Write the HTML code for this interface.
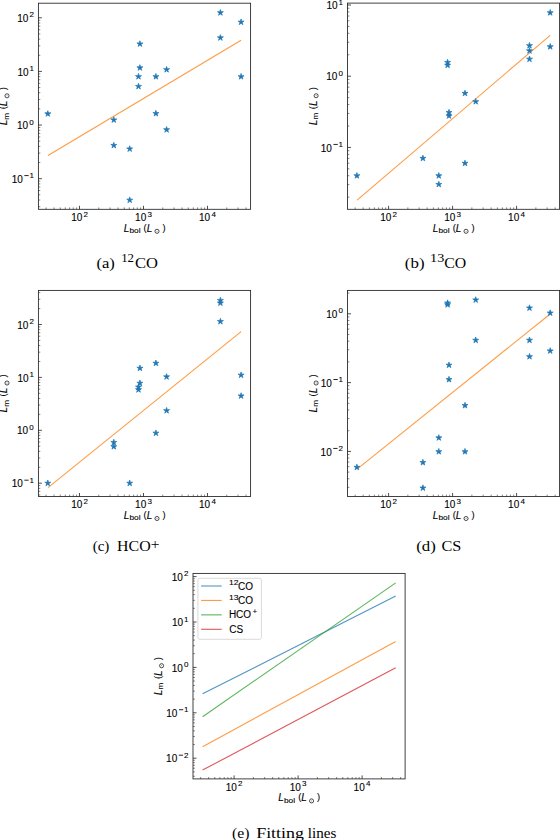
<!DOCTYPE html>
<html><head><meta charset="utf-8"><title>Figure</title>
<style>
html,body{margin:0;padding:0;background:#fff;}
body{width:560px;height:840px;overflow:hidden;}
svg{display:block;}
text{fill:#000;}
text.s,text.si{font-family:"Liberation Sans", sans-serif;stroke:#000;stroke-width:0.1px;}
text.si{font-style:italic;}
text.f{font-family:"Liberation Serif", serif;}
</style></head>
<body>
<svg width="560" height="840" viewBox="0 0 560 840">
<rect width="560" height="840" fill="#fff"/>
<text class="s" x="71.18" y="221" style="font-size:10px">10</text>
<text class="s" x="83.41" y="216.5" style="font-size:8px">2</text>
<text class="s" x="135.11" y="221" style="font-size:10px">10</text>
<text class="s" x="147.43" y="216.5" style="font-size:8px">3</text>
<text class="s" x="198.99" y="221" style="font-size:10px">10</text>
<text class="s" x="211.44" y="216.5" style="font-size:8px">4</text>
<text class="s" x="11.72" y="182.78" style="font-size:10px">10</text>
<rect x="24.35" y="175.22" width="4.3" height="0.85" fill="#000"/>
<text class="s" x="29.44" y="178.28" style="font-size:8px">1</text>
<text class="s" x="17.04" y="129.15" style="font-size:10px">10</text>
<text class="s" x="29.36" y="124.65" style="font-size:8px">0</text>
<text class="s" x="17.42" y="75.52" style="font-size:10px">10</text>
<text class="s" x="29.44" y="71.02" style="font-size:8px">1</text>
<text class="s" x="17.22" y="21.89" style="font-size:10px">10</text>
<text class="s" x="29.45" y="17.39" style="font-size:8px">2</text>
<path d="M79.5 209.3v-3.5M143.5 209.3v-3.5M207.5 209.3v-3.5M38.4 178.68h3.5M38.4 125.05h3.5M38.4 71.42h3.5M38.4 17.79h3.5" stroke="#222" stroke-width="0.8" fill="none"/>
<path d="M46.04 209.3v-1.9M54.03 209.3v-1.9M60.23 209.3v-1.9M65.3 209.3v-1.9M69.59 209.3v-1.9M73.3 209.3v-1.9M76.57 209.3v-1.9M98.77 209.3v-1.9M110.04 209.3v-1.9M118.03 209.3v-1.9M124.23 209.3v-1.9M129.3 209.3v-1.9M133.59 209.3v-1.9M137.3 209.3v-1.9M140.57 209.3v-1.9M162.77 209.3v-1.9M174.04 209.3v-1.9M182.03 209.3v-1.9M188.23 209.3v-1.9M193.3 209.3v-1.9M197.59 209.3v-1.9M201.3 209.3v-1.9M204.57 209.3v-1.9M226.77 209.3v-1.9M238.04 209.3v-1.9M246.03 209.3v-1.9M38.4 206.72h1.9M38.4 200.02h1.9M38.4 194.82h1.9M38.4 190.58h1.9M38.4 186.99h1.9M38.4 183.88h1.9M38.4 181.13h1.9M38.4 162.54h1.9M38.4 153.09h1.9M38.4 146.39h1.9M38.4 141.19h1.9M38.4 136.95h1.9M38.4 133.36h1.9M38.4 130.25h1.9M38.4 127.5h1.9M38.4 108.91h1.9M38.4 99.46h1.9M38.4 92.76h1.9M38.4 87.56h1.9M38.4 83.32h1.9M38.4 79.73h1.9M38.4 76.62h1.9M38.4 73.87h1.9M38.4 55.28h1.9M38.4 45.83h1.9M38.4 39.13h1.9M38.4 33.93h1.9M38.4 29.69h1.9M38.4 26.1h1.9M38.4 22.99h1.9M38.4 20.24h1.9" stroke="#333" stroke-width="0.6" fill="none"/>
<path d="M48 155.5L241.1 40.3" stroke="#ff7f0e" stroke-width="1.1" stroke-opacity="0.78" fill="none"/>
<path d="M47.8 110.65L47.09 112.83L44.8 112.83L46.66 114.17L45.95 116.35L47.8 115L49.65 116.35L48.94 114.17L50.8 112.83L48.51 112.83ZM113.8 116.75L113.09 118.93L110.8 118.93L112.66 120.27L111.95 122.45L113.8 121.1L115.65 122.45L114.94 120.27L116.8 118.93L114.51 118.93ZM113.8 142.25L113.09 144.43L110.8 144.43L112.66 145.77L111.95 147.95L113.8 146.6L115.65 147.95L114.94 145.77L116.8 144.43L114.51 144.43ZM129.7 145.75L128.99 147.93L126.7 147.93L128.56 149.27L127.85 151.45L129.7 150.1L131.55 151.45L130.84 149.27L132.7 147.93L130.41 147.93ZM129.7 196.95L128.99 199.13L126.7 199.13L128.56 200.47L127.85 202.65L129.7 201.3L131.55 202.65L130.84 200.47L132.7 199.13L130.41 199.13ZM138.5 83.25L137.79 85.43L135.5 85.43L137.36 86.77L136.65 88.95L138.5 87.6L140.35 88.95L139.64 86.77L141.5 85.43L139.21 85.43ZM138.5 73.45L137.79 75.63L135.5 75.63L137.36 76.97L136.65 79.15L138.5 77.8L140.35 79.15L139.64 76.97L141.5 75.63L139.21 75.63ZM139.9 64.65L139.19 66.83L136.9 66.83L138.76 68.17L138.05 70.35L139.9 69L141.75 70.35L141.04 68.17L142.9 66.83L140.61 66.83ZM139.9 40.75L139.19 42.93L136.9 42.93L138.76 44.27L138.05 46.45L139.9 45.1L141.75 46.45L141.04 44.27L142.9 42.93L140.61 42.93ZM155.9 110.35L155.19 112.53L152.9 112.53L154.76 113.87L154.05 116.05L155.9 114.7L157.75 116.05L157.04 113.87L158.9 112.53L156.61 112.53ZM155.9 73.45L155.19 75.63L152.9 75.63L154.76 76.97L154.05 79.15L155.9 77.8L157.75 79.15L157.04 76.97L158.9 75.63L156.61 75.63ZM166.6 66.45L165.89 68.63L163.6 68.63L165.46 69.97L164.75 72.15L166.6 70.8L168.45 72.15L167.74 69.97L169.6 68.63L167.31 68.63ZM166.6 126.55L165.89 128.73L163.6 128.73L165.46 130.07L164.75 132.25L166.6 130.9L168.45 132.25L167.74 130.07L169.6 128.73L167.31 128.73ZM220.4 9.55L219.69 11.73L217.4 11.73L219.26 13.07L218.55 15.25L220.4 13.9L222.25 15.25L221.54 13.07L223.4 11.73L221.11 11.73ZM220.4 34.65L219.69 36.83L217.4 36.83L219.26 38.17L218.55 40.35L220.4 39L222.25 40.35L221.54 38.17L223.4 36.83L221.11 36.83ZM241.1 18.95L240.39 21.13L238.1 21.13L239.96 22.47L239.25 24.65L241.1 23.3L242.95 24.65L242.24 22.47L244.1 21.13L241.81 21.13ZM241.1 73.45L240.39 75.63L238.1 75.63L239.96 76.97L239.25 79.15L241.1 77.8L242.95 79.15L242.24 76.97L244.1 75.63L241.81 75.63Z" fill="#1f77b4" stroke="#1f77b4" stroke-width="0.7" stroke-linejoin="miter"/>
<rect x="38.4" y="3.2" width="212.2" height="206.1" fill="none" stroke="#222" stroke-width="0.85"/>
<text class="s" x="380.28" y="221" style="font-size:10px">10</text>
<text class="s" x="392.51" y="216.5" style="font-size:8px">2</text>
<text class="s" x="444.21" y="221" style="font-size:10px">10</text>
<text class="s" x="456.53" y="216.5" style="font-size:8px">3</text>
<text class="s" x="508.09" y="221" style="font-size:10px">10</text>
<text class="s" x="520.54" y="216.5" style="font-size:8px">4</text>
<text class="s" x="320.82" y="151.5" style="font-size:10px">10</text>
<rect x="333.45" y="143.94" width="4.3" height="0.85" fill="#000"/>
<text class="s" x="338.54" y="147" style="font-size:8px">1</text>
<text class="s" x="326.14" y="80.3" style="font-size:10px">10</text>
<text class="s" x="338.46" y="75.8" style="font-size:8px">0</text>
<text class="s" x="326.52" y="9.1" style="font-size:10px">10</text>
<text class="s" x="338.54" y="4.6" style="font-size:8px">1</text>
<path d="M388.6 209.3v-3.5M452.6 209.3v-3.5M516.6 209.3v-3.5M347.5 147.4h3.5M347.5 76.2h3.5M347.5 5h3.5" stroke="#222" stroke-width="0.8" fill="none"/>
<path d="M355.14 209.3v-1.9M363.13 209.3v-1.9M369.33 209.3v-1.9M374.4 209.3v-1.9M378.69 209.3v-1.9M382.4 209.3v-1.9M385.67 209.3v-1.9M407.87 209.3v-1.9M419.14 209.3v-1.9M427.13 209.3v-1.9M433.33 209.3v-1.9M438.4 209.3v-1.9M442.69 209.3v-1.9M446.4 209.3v-1.9M449.67 209.3v-1.9M471.87 209.3v-1.9M483.14 209.3v-1.9M491.13 209.3v-1.9M497.33 209.3v-1.9M502.4 209.3v-1.9M506.69 209.3v-1.9M510.4 209.3v-1.9M513.67 209.3v-1.9M535.87 209.3v-1.9M547.14 209.3v-1.9M555.13 209.3v-1.9M347.5 197.17h1.9M347.5 184.63h1.9M347.5 175.73h1.9M347.5 168.83h1.9M347.5 163.2h1.9M347.5 158.43h1.9M347.5 154.3h1.9M347.5 150.66h1.9M347.5 125.97h1.9M347.5 113.43h1.9M347.5 104.53h1.9M347.5 97.63h1.9M347.5 92h1.9M347.5 87.23h1.9M347.5 83.1h1.9M347.5 79.46h1.9M347.5 54.77h1.9M347.5 42.23h1.9M347.5 33.33h1.9M347.5 26.43h1.9M347.5 20.8h1.9M347.5 16.03h1.9M347.5 11.9h1.9M347.5 8.26h1.9" stroke="#333" stroke-width="0.6" fill="none"/>
<path d="M357.1 200.2L550.2 35.3" stroke="#ff7f0e" stroke-width="1.1" stroke-opacity="0.78" fill="none"/>
<path d="M356.9 172.55L356.19 174.73L353.9 174.73L355.76 176.07L355.05 178.25L356.9 176.9L358.75 178.25L358.04 176.07L359.9 174.73L357.61 174.73ZM422.9 155.15L422.19 157.33L419.9 157.33L421.76 158.67L421.05 160.85L422.9 159.5L424.75 160.85L424.04 158.67L425.9 157.33L423.61 157.33ZM438.8 172.55L438.09 174.73L435.8 174.73L437.66 176.07L436.95 178.25L438.8 176.9L440.65 178.25L439.94 176.07L441.8 174.73L439.51 174.73ZM438.8 181.25L438.09 183.43L435.8 183.43L437.66 184.77L436.95 186.95L438.8 185.6L440.65 186.95L439.94 184.77L441.8 183.43L439.51 183.43ZM447.6 59.25L446.89 61.43L444.6 61.43L446.46 62.77L445.75 64.95L447.6 63.6L449.45 64.95L448.74 62.77L450.6 61.43L448.31 61.43ZM447.6 62.05L446.89 64.23L444.6 64.23L446.46 65.57L445.75 67.75L447.6 66.4L449.45 67.75L448.74 65.57L450.6 64.23L448.31 64.23ZM449 109.35L448.29 111.53L446 111.53L447.86 112.87L447.15 115.05L449 113.7L450.85 115.05L450.14 112.87L452 111.53L449.71 111.53ZM449 112.65L448.29 114.83L446 114.83L447.86 116.17L447.15 118.35L449 117L450.85 118.35L450.14 116.17L452 114.83L449.71 114.83ZM465 90.15L464.29 92.33L462 92.33L463.86 93.67L463.15 95.85L465 94.5L466.85 95.85L466.14 93.67L468 92.33L465.71 92.33ZM465 160.15L464.29 162.33L462 162.33L463.86 163.67L463.15 165.85L465 164.5L466.85 165.85L466.14 163.67L468 162.33L465.71 162.33ZM475.7 98.45L474.99 100.63L472.7 100.63L474.56 101.97L473.85 104.15L475.7 102.8L477.55 104.15L476.84 101.97L478.7 100.63L476.41 100.63ZM529.5 42.45L528.79 44.63L526.5 44.63L528.36 45.97L527.65 48.15L529.5 46.8L531.35 48.15L530.64 45.97L532.5 44.63L530.21 44.63ZM529.5 47.65L528.79 49.83L526.5 49.83L528.36 51.17L527.65 53.35L529.5 52L531.35 53.35L530.64 51.17L532.5 49.83L530.21 49.83ZM529.5 55.95L528.79 58.13L526.5 58.13L528.36 59.47L527.65 61.65L529.5 60.3L531.35 61.65L530.64 59.47L532.5 58.13L530.21 58.13ZM550.2 9.55L549.49 11.73L547.2 11.73L549.06 13.07L548.35 15.25L550.2 13.9L552.05 15.25L551.34 13.07L553.2 11.73L550.91 11.73ZM550.2 43.55L549.49 45.73L547.2 45.73L549.06 47.07L548.35 49.25L550.2 47.9L552.05 49.25L551.34 47.07L553.2 45.73L550.91 45.73Z" fill="#1f77b4" stroke="#1f77b4" stroke-width="0.7" stroke-linejoin="miter"/>
<rect x="347.5" y="3.1" width="212.1" height="206.2" fill="none" stroke="#222" stroke-width="0.85"/>
<text class="s" x="71.18" y="508.2" style="font-size:10px">10</text>
<text class="s" x="83.41" y="503.7" style="font-size:8px">2</text>
<text class="s" x="135.11" y="508.2" style="font-size:10px">10</text>
<text class="s" x="147.43" y="503.7" style="font-size:8px">3</text>
<text class="s" x="198.99" y="508.2" style="font-size:10px">10</text>
<text class="s" x="211.44" y="503.7" style="font-size:8px">4</text>
<text class="s" x="11.72" y="487.3" style="font-size:10px">10</text>
<rect x="24.35" y="479.74" width="4.3" height="0.85" fill="#000"/>
<text class="s" x="29.44" y="482.8" style="font-size:8px">1</text>
<text class="s" x="17.04" y="434.4" style="font-size:10px">10</text>
<text class="s" x="29.36" y="429.9" style="font-size:8px">0</text>
<text class="s" x="17.42" y="381.5" style="font-size:10px">10</text>
<text class="s" x="29.44" y="377" style="font-size:8px">1</text>
<text class="s" x="17.22" y="328.6" style="font-size:10px">10</text>
<text class="s" x="29.45" y="324.1" style="font-size:8px">2</text>
<path d="M79.5 496.5v-3.5M143.5 496.5v-3.5M207.5 496.5v-3.5M38.4 483.2h3.5M38.4 430.3h3.5M38.4 377.4h3.5M38.4 324.5h3.5" stroke="#222" stroke-width="0.8" fill="none"/>
<path d="M46.04 496.5v-1.9M54.03 496.5v-1.9M60.23 496.5v-1.9M65.3 496.5v-1.9M69.59 496.5v-1.9M73.3 496.5v-1.9M76.57 496.5v-1.9M98.77 496.5v-1.9M110.04 496.5v-1.9M118.03 496.5v-1.9M124.23 496.5v-1.9M129.3 496.5v-1.9M133.59 496.5v-1.9M137.3 496.5v-1.9M140.57 496.5v-1.9M162.77 496.5v-1.9M174.04 496.5v-1.9M182.03 496.5v-1.9M188.23 496.5v-1.9M193.3 496.5v-1.9M197.59 496.5v-1.9M201.3 496.5v-1.9M204.57 496.5v-1.9M226.77 496.5v-1.9M238.04 496.5v-1.9M246.03 496.5v-1.9M38.4 494.94h1.9M38.4 491.39h1.9M38.4 488.33h1.9M38.4 485.62h1.9M38.4 467.28h1.9M38.4 457.96h1.9M38.4 451.35h1.9M38.4 446.22h1.9M38.4 442.04h1.9M38.4 438.49h1.9M38.4 435.43h1.9M38.4 432.72h1.9M38.4 414.38h1.9M38.4 405.06h1.9M38.4 398.45h1.9M38.4 393.32h1.9M38.4 389.14h1.9M38.4 385.59h1.9M38.4 382.53h1.9M38.4 379.82h1.9M38.4 361.48h1.9M38.4 352.16h1.9M38.4 345.55h1.9M38.4 340.42h1.9M38.4 336.24h1.9M38.4 332.69h1.9M38.4 329.63h1.9M38.4 326.92h1.9M38.4 308.58h1.9M38.4 299.26h1.9M38.4 292.65h1.9" stroke="#333" stroke-width="0.6" fill="none"/>
<path d="M48 487.6L241.1 331.6" stroke="#ff7f0e" stroke-width="1.1" stroke-opacity="0.78" fill="none"/>
<path d="M47.8 480.05L47.09 482.23L44.8 482.23L46.66 483.57L45.95 485.75L47.8 484.4L49.65 485.75L48.94 483.57L50.8 482.23L48.51 482.23ZM113.8 439.25L113.09 441.43L110.8 441.43L112.66 442.77L111.95 444.95L113.8 443.6L115.65 444.95L114.94 442.77L116.8 441.43L114.51 441.43ZM113.8 443.45L113.09 445.63L110.8 445.63L112.66 446.97L111.95 449.15L113.8 447.8L115.65 449.15L114.94 446.97L116.8 445.63L114.51 445.63ZM129.7 480.05L128.99 482.23L126.7 482.23L128.56 483.57L127.85 485.75L129.7 484.4L131.55 485.75L130.84 483.57L132.7 482.23L130.41 482.23ZM138.5 383.85L137.79 386.03L135.5 386.03L137.36 387.37L136.65 389.55L138.5 388.2L140.35 389.55L139.64 387.37L141.5 386.03L139.21 386.03ZM138.5 386.55L137.79 388.73L135.5 388.73L137.36 390.07L136.65 392.25L138.5 390.9L140.35 392.25L139.64 390.07L141.5 388.73L139.21 388.73ZM139.9 365.05L139.19 367.23L136.9 367.23L138.76 368.57L138.05 370.75L139.9 369.4L141.75 370.75L141.04 368.57L142.9 367.23L140.61 367.23ZM139.9 380.05L139.19 382.23L136.9 382.23L138.76 383.57L138.05 385.75L139.9 384.4L141.75 385.75L141.04 383.57L142.9 382.23L140.61 382.23ZM155.9 429.95L155.19 432.13L152.9 432.13L154.76 433.47L154.05 435.65L155.9 434.3L157.75 435.65L157.04 433.47L158.9 432.13L156.61 432.13ZM155.9 360.05L155.19 362.23L152.9 362.23L154.76 363.57L154.05 365.75L155.9 364.4L157.75 365.75L157.04 363.57L158.9 362.23L156.61 362.23ZM166.6 373.65L165.89 375.83L163.6 375.83L165.46 377.17L164.75 379.35L166.6 378L168.45 379.35L167.74 377.17L169.6 375.83L167.31 375.83ZM166.6 407.45L165.89 409.63L163.6 409.63L165.46 410.97L164.75 413.15L166.6 411.8L168.45 413.15L167.74 410.97L169.6 409.63L167.31 409.63ZM220.4 297.25L219.69 299.43L217.4 299.43L219.26 300.77L218.55 302.95L220.4 301.6L222.25 302.95L221.54 300.77L223.4 299.43L221.11 299.43ZM220.4 299.85L219.69 302.03L217.4 302.03L219.26 303.37L218.55 305.55L220.4 304.2L222.25 305.55L221.54 303.37L223.4 302.03L221.11 302.03ZM220.4 318.35L219.69 320.53L217.4 320.53L219.26 321.87L218.55 324.05L220.4 322.7L222.25 324.05L221.54 321.87L223.4 320.53L221.11 320.53ZM241.1 371.95L240.39 374.13L238.1 374.13L239.96 375.47L239.25 377.65L241.1 376.3L242.95 377.65L242.24 375.47L244.1 374.13L241.81 374.13ZM241.1 392.75L240.39 394.93L238.1 394.93L239.96 396.27L239.25 398.45L241.1 397.1L242.95 398.45L242.24 396.27L244.1 394.93L241.81 394.93Z" fill="#1f77b4" stroke="#1f77b4" stroke-width="0.7" stroke-linejoin="miter"/>
<rect x="38.4" y="290.4" width="212.2" height="206.1" fill="none" stroke="#222" stroke-width="0.85"/>
<text class="s" x="380.28" y="508.2" style="font-size:10px">10</text>
<text class="s" x="392.51" y="503.7" style="font-size:8px">2</text>
<text class="s" x="444.21" y="508.2" style="font-size:10px">10</text>
<text class="s" x="456.53" y="503.7" style="font-size:8px">3</text>
<text class="s" x="508.09" y="508.2" style="font-size:10px">10</text>
<text class="s" x="520.54" y="503.7" style="font-size:8px">4</text>
<text class="s" x="320.62" y="455.5" style="font-size:10px">10</text>
<rect x="333.26" y="447.94" width="4.3" height="0.85" fill="#000"/>
<text class="s" x="338.55" y="451" style="font-size:8px">2</text>
<text class="s" x="320.82" y="386.7" style="font-size:10px">10</text>
<rect x="333.45" y="379.14" width="4.3" height="0.85" fill="#000"/>
<text class="s" x="338.54" y="382.2" style="font-size:8px">1</text>
<text class="s" x="326.14" y="317.9" style="font-size:10px">10</text>
<text class="s" x="338.46" y="313.4" style="font-size:8px">0</text>
<path d="M388.6 496.5v-3.5M452.6 496.5v-3.5M516.6 496.5v-3.5M347.5 451.4h3.5M347.5 382.6h3.5M347.5 313.8h3.5" stroke="#222" stroke-width="0.8" fill="none"/>
<path d="M355.14 496.5v-1.9M363.13 496.5v-1.9M369.33 496.5v-1.9M374.4 496.5v-1.9M378.69 496.5v-1.9M382.4 496.5v-1.9M385.67 496.5v-1.9M407.87 496.5v-1.9M419.14 496.5v-1.9M427.13 496.5v-1.9M433.33 496.5v-1.9M438.4 496.5v-1.9M442.69 496.5v-1.9M446.4 496.5v-1.9M449.67 496.5v-1.9M471.87 496.5v-1.9M483.14 496.5v-1.9M491.13 496.5v-1.9M497.33 496.5v-1.9M502.4 496.5v-1.9M506.69 496.5v-1.9M510.4 496.5v-1.9M513.67 496.5v-1.9M535.87 496.5v-1.9M547.14 496.5v-1.9M555.13 496.5v-1.9M347.5 487.37h1.9M347.5 478.78h1.9M347.5 472.11h1.9M347.5 466.66h1.9M347.5 462.06h1.9M347.5 458.07h1.9M347.5 454.55h1.9M347.5 430.69h1.9M347.5 418.57h1.9M347.5 409.98h1.9M347.5 403.31h1.9M347.5 397.86h1.9M347.5 393.26h1.9M347.5 389.27h1.9M347.5 385.75h1.9M347.5 361.89h1.9M347.5 349.77h1.9M347.5 341.18h1.9M347.5 334.51h1.9M347.5 329.06h1.9M347.5 324.46h1.9M347.5 320.47h1.9M347.5 316.95h1.9M347.5 293.09h1.9" stroke="#333" stroke-width="0.6" fill="none"/>
<path d="M357.1 469.1L550.2 314" stroke="#ff7f0e" stroke-width="1.1" stroke-opacity="0.78" fill="none"/>
<path d="M356.9 464.15L356.19 466.33L353.9 466.33L355.76 467.67L355.05 469.85L356.9 468.5L358.75 469.85L358.04 467.67L359.9 466.33L357.61 466.33ZM422.9 459.35L422.19 461.53L419.9 461.53L421.76 462.87L421.05 465.05L422.9 463.7L424.75 465.05L424.04 462.87L425.9 461.53L423.61 461.53ZM422.9 484.85L422.19 487.03L419.9 487.03L421.76 488.37L421.05 490.55L422.9 489.2L424.75 490.55L424.04 488.37L425.9 487.03L423.61 487.03ZM438.8 434.65L438.09 436.83L435.8 436.83L437.66 438.17L436.95 440.35L438.8 439L440.65 440.35L439.94 438.17L441.8 436.83L439.51 436.83ZM438.8 448.45L438.09 450.63L435.8 450.63L437.66 451.97L436.95 454.15L438.8 452.8L440.65 454.15L439.94 451.97L441.8 450.63L439.51 450.63ZM447.6 299.85L446.89 302.03L444.6 302.03L446.46 303.37L445.75 305.55L447.6 304.2L449.45 305.55L448.74 303.37L450.6 302.03L448.31 302.03ZM447.6 301.55L446.89 303.73L444.6 303.73L446.46 305.07L445.75 307.25L447.6 305.9L449.45 307.25L448.74 305.07L450.6 303.73L448.31 303.73ZM449 361.95L448.29 364.13L446 364.13L447.86 365.47L447.15 367.65L449 366.3L450.85 367.65L450.14 365.47L452 364.13L449.71 364.13ZM449 376.35L448.29 378.53L446 378.53L447.86 379.87L447.15 382.05L449 380.7L450.85 382.05L450.14 379.87L452 378.53L449.71 378.53ZM465 402.35L464.29 404.53L462 404.53L463.86 405.87L463.15 408.05L465 406.7L466.85 408.05L466.14 405.87L468 404.53L465.71 404.53ZM465 448.45L464.29 450.63L462 450.63L463.86 451.97L463.15 454.15L465 452.8L466.85 454.15L466.14 451.97L468 450.63L465.71 450.63ZM475.7 296.75L474.99 298.93L472.7 298.93L474.56 300.27L473.85 302.45L475.7 301.1L477.55 302.45L476.84 300.27L478.7 298.93L476.41 298.93ZM475.7 337.05L474.99 339.23L472.7 339.23L474.56 340.57L473.85 342.75L475.7 341.4L477.55 342.75L476.84 340.57L478.7 339.23L476.41 339.23ZM529.5 304.85L528.79 307.03L526.5 307.03L528.36 308.37L527.65 310.55L529.5 309.2L531.35 310.55L530.64 308.37L532.5 307.03L530.21 307.03ZM529.5 337.05L528.79 339.23L526.5 339.23L528.36 340.57L527.65 342.75L529.5 341.4L531.35 342.75L530.64 340.57L532.5 339.23L530.21 339.23ZM529.5 353.45L528.79 355.63L526.5 355.63L528.36 356.97L527.65 359.15L529.5 357.8L531.35 359.15L530.64 356.97L532.5 355.63L530.21 355.63ZM550.2 309.85L549.49 312.03L547.2 312.03L549.06 313.37L548.35 315.55L550.2 314.2L552.05 315.55L551.34 313.37L553.2 312.03L550.91 312.03ZM550.2 347.75L549.49 349.93L547.2 349.93L549.06 351.27L548.35 353.45L550.2 352.1L552.05 353.45L551.34 351.27L553.2 349.93L550.91 349.93Z" fill="#1f77b4" stroke="#1f77b4" stroke-width="0.7" stroke-linejoin="miter"/>
<rect x="347.5" y="290.4" width="212.1" height="206.1" fill="none" stroke="#222" stroke-width="0.85"/>
<text class="s" x="225.78" y="790.6" style="font-size:10px">10</text>
<text class="s" x="238.01" y="786.1" style="font-size:8px">2</text>
<text class="s" x="289.71" y="790.6" style="font-size:10px">10</text>
<text class="s" x="302.03" y="786.1" style="font-size:8px">3</text>
<text class="s" x="353.59" y="790.6" style="font-size:10px">10</text>
<text class="s" x="366.04" y="786.1" style="font-size:8px">4</text>
<text class="s" x="166.12" y="762.3" style="font-size:10px">10</text>
<rect x="178.76" y="754.74" width="4.3" height="0.85" fill="#000"/>
<text class="s" x="184.05" y="757.8" style="font-size:8px">2</text>
<text class="s" x="166.32" y="716.9" style="font-size:10px">10</text>
<rect x="178.95" y="709.34" width="4.3" height="0.85" fill="#000"/>
<text class="s" x="184.04" y="712.4" style="font-size:8px">1</text>
<text class="s" x="171.64" y="671.5" style="font-size:10px">10</text>
<text class="s" x="183.96" y="667" style="font-size:8px">0</text>
<text class="s" x="172.02" y="626.1" style="font-size:10px">10</text>
<text class="s" x="184.04" y="621.6" style="font-size:8px">1</text>
<text class="s" x="171.82" y="580.7" style="font-size:10px">10</text>
<text class="s" x="184.05" y="576.2" style="font-size:8px">2</text>
<path d="M234.1 778.9v-3.5M298.1 778.9v-3.5M362.1 778.9v-3.5M193 758.2h3.5M193 712.8h3.5M193 667.4h3.5M193 622h3.5M193 576.6h3.5" stroke="#222" stroke-width="0.8" fill="none"/>
<path d="M200.64 778.9v-1.9M208.63 778.9v-1.9M214.83 778.9v-1.9M219.9 778.9v-1.9M224.19 778.9v-1.9M227.9 778.9v-1.9M231.17 778.9v-1.9M253.37 778.9v-1.9M264.64 778.9v-1.9M272.63 778.9v-1.9M278.83 778.9v-1.9M283.9 778.9v-1.9M288.19 778.9v-1.9M291.9 778.9v-1.9M295.17 778.9v-1.9M317.37 778.9v-1.9M328.64 778.9v-1.9M336.63 778.9v-1.9M342.83 778.9v-1.9M347.9 778.9v-1.9M352.19 778.9v-1.9M355.9 778.9v-1.9M359.17 778.9v-1.9M381.37 778.9v-1.9M392.64 778.9v-1.9M400.63 778.9v-1.9M193 776.27h1.9M193 771.87h1.9M193 768.27h1.9M193 765.23h1.9M193 762.6h1.9M193 760.28h1.9M193 744.53h1.9M193 736.54h1.9M193 730.87h1.9M193 726.47h1.9M193 722.87h1.9M193 719.83h1.9M193 717.2h1.9M193 714.88h1.9M193 699.13h1.9M193 691.14h1.9M193 685.47h1.9M193 681.07h1.9M193 677.47h1.9M193 674.43h1.9M193 671.8h1.9M193 669.48h1.9M193 653.73h1.9M193 645.74h1.9M193 640.07h1.9M193 635.67h1.9M193 632.07h1.9M193 629.03h1.9M193 626.4h1.9M193 624.08h1.9M193 608.33h1.9M193 600.34h1.9M193 594.67h1.9M193 590.27h1.9M193 586.67h1.9M193 583.63h1.9M193 581h1.9M193 578.68h1.9" stroke="#333" stroke-width="0.6" fill="none"/>
<rect x="193" y="573.4" width="212.1" height="205.5" fill="none" stroke="#222" stroke-width="0.85"/>
<g transform="translate(124.1,231.7)"><text class="si" x="-0.31" y="0" style="font-size:10px">L</text><text class="s" x="5.37" y="1.4" style="font-size:7.3px" textLength="11.07" lengthAdjust="spacingAndGlyphs">bol</text><text class="s" x="19.52" y="-1" style="font-size:9.3px">(</text><text class="si" x="22.59" y="0" style="font-size:10px">L</text><circle cx="32.9" cy="-0.4" r="2.05" fill="none" stroke="#000" stroke-width="0.7"/><circle cx="32.9" cy="-0.4" r="0.4" fill="#000"/><text class="s" x="38.35" y="-1" style="font-size:9.3px">)</text></g>
<g transform="translate(7.4,125) rotate(-90)"><text class="si" x="-0.31" y="0" style="font-size:10px">L</text><text class="s" x="5.37" y="1.2" style="font-size:8px">m</text><text class="s" x="15.82" y="-1" style="font-size:9.3px">(</text><text class="si" x="18.89" y="0" style="font-size:10px">L</text><circle cx="29.2" cy="-0.4" r="2.05" fill="none" stroke="#000" stroke-width="0.7"/><circle cx="29.2" cy="-0.4" r="0.4" fill="#000"/><text class="s" x="34.65" y="-1" style="font-size:9.3px">)</text></g>
<g transform="translate(433.15,231.7)"><text class="si" x="-0.31" y="0" style="font-size:10px">L</text><text class="s" x="5.37" y="1.4" style="font-size:7.3px" textLength="11.07" lengthAdjust="spacingAndGlyphs">bol</text><text class="s" x="19.52" y="-1" style="font-size:9.3px">(</text><text class="si" x="22.59" y="0" style="font-size:10px">L</text><circle cx="32.9" cy="-0.4" r="2.05" fill="none" stroke="#000" stroke-width="0.7"/><circle cx="32.9" cy="-0.4" r="0.4" fill="#000"/><text class="s" x="38.35" y="-1" style="font-size:9.3px">)</text></g>
<g transform="translate(316.5,124.95) rotate(-90)"><text class="si" x="-0.31" y="0" style="font-size:10px">L</text><text class="s" x="5.37" y="1.2" style="font-size:8px">m</text><text class="s" x="15.82" y="-1" style="font-size:9.3px">(</text><text class="si" x="18.89" y="0" style="font-size:10px">L</text><circle cx="29.2" cy="-0.4" r="2.05" fill="none" stroke="#000" stroke-width="0.7"/><circle cx="29.2" cy="-0.4" r="0.4" fill="#000"/><text class="s" x="34.65" y="-1" style="font-size:9.3px">)</text></g>
<g transform="translate(124.1,518.9)"><text class="si" x="-0.31" y="0" style="font-size:10px">L</text><text class="s" x="5.37" y="1.4" style="font-size:7.3px" textLength="11.07" lengthAdjust="spacingAndGlyphs">bol</text><text class="s" x="19.52" y="-1" style="font-size:9.3px">(</text><text class="si" x="22.59" y="0" style="font-size:10px">L</text><circle cx="32.9" cy="-0.4" r="2.05" fill="none" stroke="#000" stroke-width="0.7"/><circle cx="32.9" cy="-0.4" r="0.4" fill="#000"/><text class="s" x="38.35" y="-1" style="font-size:9.3px">)</text></g>
<g transform="translate(7.4,412.2) rotate(-90)"><text class="si" x="-0.31" y="0" style="font-size:10px">L</text><text class="s" x="5.37" y="1.2" style="font-size:8px">m</text><text class="s" x="15.82" y="-1" style="font-size:9.3px">(</text><text class="si" x="18.89" y="0" style="font-size:10px">L</text><circle cx="29.2" cy="-0.4" r="2.05" fill="none" stroke="#000" stroke-width="0.7"/><circle cx="29.2" cy="-0.4" r="0.4" fill="#000"/><text class="s" x="34.65" y="-1" style="font-size:9.3px">)</text></g>
<g transform="translate(433.15,518.9)"><text class="si" x="-0.31" y="0" style="font-size:10px">L</text><text class="s" x="5.37" y="1.4" style="font-size:7.3px" textLength="11.07" lengthAdjust="spacingAndGlyphs">bol</text><text class="s" x="19.52" y="-1" style="font-size:9.3px">(</text><text class="si" x="22.59" y="0" style="font-size:10px">L</text><circle cx="32.9" cy="-0.4" r="2.05" fill="none" stroke="#000" stroke-width="0.7"/><circle cx="32.9" cy="-0.4" r="0.4" fill="#000"/><text class="s" x="38.35" y="-1" style="font-size:9.3px">)</text></g>
<g transform="translate(316.5,412.2) rotate(-90)"><text class="si" x="-0.31" y="0" style="font-size:10px">L</text><text class="s" x="5.37" y="1.2" style="font-size:8px">m</text><text class="s" x="15.82" y="-1" style="font-size:9.3px">(</text><text class="si" x="18.89" y="0" style="font-size:10px">L</text><circle cx="29.2" cy="-0.4" r="2.05" fill="none" stroke="#000" stroke-width="0.7"/><circle cx="29.2" cy="-0.4" r="0.4" fill="#000"/><text class="s" x="34.65" y="-1" style="font-size:9.3px">)</text></g>
<g transform="translate(278.65,801.3)"><text class="si" x="-0.31" y="0" style="font-size:10px">L</text><text class="s" x="5.37" y="1.4" style="font-size:7.3px" textLength="11.07" lengthAdjust="spacingAndGlyphs">bol</text><text class="s" x="19.52" y="-1" style="font-size:9.3px">(</text><text class="si" x="22.59" y="0" style="font-size:10px">L</text><circle cx="32.9" cy="-0.4" r="2.05" fill="none" stroke="#000" stroke-width="0.7"/><circle cx="32.9" cy="-0.4" r="0.4" fill="#000"/><text class="s" x="38.35" y="-1" style="font-size:9.3px">)</text></g>
<g transform="translate(162,694.9) rotate(-90)"><text class="si" x="-0.31" y="0" style="font-size:10px">L</text><text class="s" x="5.37" y="1.2" style="font-size:8px">m</text><text class="s" x="15.82" y="-1" style="font-size:9.3px">(</text><text class="si" x="18.89" y="0" style="font-size:10px">L</text><circle cx="29.2" cy="-0.4" r="2.05" fill="none" stroke="#000" stroke-width="0.7"/><circle cx="29.2" cy="-0.4" r="0.4" fill="#000"/><text class="s" x="34.65" y="-1" style="font-size:9.3px">)</text></g>
<rect x="197.9" y="578.3" width="63.5" height="61" rx="2" ry="2" fill="#fff" fill-opacity="0.8" stroke="#d0d0d0" stroke-width="0.8"/>
<path d="M201.1 586H221.7" stroke="#1f77b4" stroke-width="1.1" stroke-opacity="0.78"/>
<text class="s" x="229.05" y="585.3" style="font-size:8px" textLength="9.46" lengthAdjust="spacingAndGlyphs">12</text>
<text class="s" x="238.09" y="589.6" style="font-size:10px">CO</text>
<path d="M201.1 600.43H221.7" stroke="#ff7f0e" stroke-width="1.1" stroke-opacity="0.78"/>
<text class="s" x="229.05" y="599.73" style="font-size:8px" textLength="9.46" lengthAdjust="spacingAndGlyphs">13</text>
<text class="s" x="238.09" y="604.03" style="font-size:10px">CO</text>
<path d="M201.1 614.86H221.7" stroke="#2ca02c" stroke-width="1.1" stroke-opacity="0.78"/>
<text class="s" x="228.88" y="618.46" style="font-size:10px">HCO</text>
<text class="s" x="252.51" y="613.86" style="font-size:8px">+</text>
<path d="M201.1 629.29H221.7" stroke="#d62728" stroke-width="1.1" stroke-opacity="0.78"/>
<text class="s" x="229.19" y="632.89" style="font-size:10px">CS</text>
<path d="M202.6 693.8L395.7 596.1" stroke="#1f77b4" stroke-width="1.1" stroke-opacity="0.78" fill="none"/>
<path d="M202.6 746.7L395.7 641.6" stroke="#ff7f0e" stroke-width="1.1" stroke-opacity="0.78" fill="none"/>
<path d="M202.6 716.7L395.7 582.9" stroke="#2ca02c" stroke-width="1.1" stroke-opacity="0.78" fill="none"/>
<path d="M202.6 770.1L395.7 667.8" stroke="#d62728" stroke-width="1.1" stroke-opacity="0.78" fill="none"/>
<text class="f" x="96.47" y="268" style="font-size:15.2px" textLength="18.35" lengthAdjust="spacingAndGlyphs">(a)</text>
<text class="f" x="121.17" y="262.4" style="font-size:12px" textLength="12.84" lengthAdjust="spacingAndGlyphs">12</text>
<text class="f" x="135.02" y="268" style="font-size:15.2px" textLength="22.96" lengthAdjust="spacingAndGlyphs">CO</text>
<text class="f" x="404.86" y="268" style="font-size:15.2px" textLength="19.63" lengthAdjust="spacingAndGlyphs">(b)</text>
<text class="f" x="430.05" y="262.4" style="font-size:12px" textLength="14.26" lengthAdjust="spacingAndGlyphs">13</text>
<text class="f" x="444.25" y="268" style="font-size:15.2px" textLength="22" lengthAdjust="spacingAndGlyphs">CO</text>
<text class="f" x="92.64" y="550.9" style="font-size:15.2px" textLength="16.72" lengthAdjust="spacingAndGlyphs">(c)</text>
<text class="f" x="117.04" y="550.9" style="font-size:15.2px" textLength="33.61" lengthAdjust="spacingAndGlyphs">HCO</text>
<text class="f" x="150.63" y="548.6" style="font-size:15.5px">+</text>
<text class="f" x="416.16" y="550.9" style="font-size:15.2px" textLength="19.58" lengthAdjust="spacingAndGlyphs">(d)</text>
<text class="f" x="441.43" y="550.9" style="font-size:15.2px" textLength="19.87" lengthAdjust="spacingAndGlyphs">CS</text>
<text class="f" x="232.11" y="837.5" style="font-size:15.2px" textLength="17.48" lengthAdjust="spacingAndGlyphs">(e)</text>
<text class="f" x="256.18" y="837.5" style="font-size:15.2px" textLength="47.76" lengthAdjust="spacingAndGlyphs">Fitting</text>
<text class="f" x="307.8" y="837.5" style="font-size:15.2px" textLength="28.45" lengthAdjust="spacingAndGlyphs">lines</text>
</svg>
</body></html>
